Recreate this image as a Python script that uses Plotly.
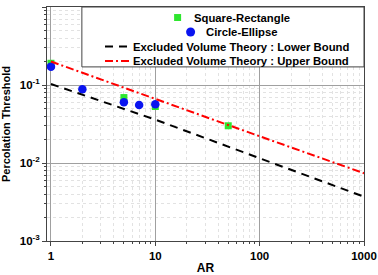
import plotly.graph_objects as go

# Data
sq_ar = [1, 5, 10, 50]
sq_pc = [0.19, 0.069, 0.053, 0.030]

ci_ar = [1, 2, 5, 7, 10]
ci_pc = [0.172, 0.088, 0.060, 0.0555, 0.0565]

lb_ar = [1, 10, 100, 1000]
lb_pc = [0.103, 0.036, 0.0115, 0.0037]

ub_ar = [1, 10, 100, 1000]
ub_pc = [0.20, 0.066, 0.022, 0.0074]

x_tickvals = [1, 10, 100, 1000]
x_ticktext = ["1", "10", "100", "1000"]
y_tickvals = [0.001, 0.01, 0.1, 1]
y_ticktext = ["10<sup>-3</sup>", "10<sup>-2</sup>", "10<sup>-1</sup>", "10<sup>0</sup>"]

series_names = ["Square-Rectangle", "Circle-Ellipse",
                "Excluded Volume Theory : Lower Bound",
                "Excluded Volume Theory : Upper Bound"]

FONT = "Liberation Sans, Arial, sans-serif"
GREEN = "#2ee62e"
BLUE = "#0a14f0"
BLACK_DASH = "8px,6px"
RED_DASH = "8px,3px,2px,3px"

fig = go.Figure()
fig.add_trace(go.Scatter(x=sq_ar, y=sq_pc, mode="markers", name=series_names[0],
                         marker=dict(symbol="square", size=7, color=GREEN)))
fig.add_trace(go.Scatter(x=ci_ar, y=ci_pc, mode="markers", name=series_names[1],
                         marker=dict(symbol="circle", size=8.5, color=BLUE)))
fig.add_trace(go.Scatter(x=lb_ar, y=lb_pc, mode="lines", name=series_names[2],
                         line=dict(color="black", width=2, dash=BLACK_DASH)))
fig.add_trace(go.Scatter(x=ub_ar, y=ub_pc, mode="lines", name=series_names[3],
                         line=dict(color="#ff0000", width=2, dash=RED_DASH)))

axis_common = dict(
    type="log", automargin=False,
    showline=True, linecolor="#444", linewidth=1, mirror=True,
    showgrid=True, gridcolor="#a0a0a0", gridwidth=1,
    ticks="outside", ticklen=4, tickcolor="#444",
    tickfont=dict(family=FONT, size=11.5, color="black", weight="bold"),
    zeroline=False,
    minor=dict(dtick="D1", showgrid=True, gridcolor="#e2e2e2", griddash="dot",
               ticks="outside", ticklen=2, tickcolor="#444"),
)

fig.update_xaxes(**axis_common, range=[-0.038, 3.0], tickmode="array",
                 tickvals=x_tickvals, ticktext=x_ticktext,
                 title=dict(text="AR", font=dict(family=FONT, size=12, color="black", weight="bold"),
                            standoff=2))
fig.update_yaxes(**axis_common, range=[-3, 0], tickmode="array",
                 tickvals=y_tickvals, ticktext=y_ticktext,
                 title=dict(text="Percolation Threshold",
                            font=dict(family=FONT, size=11, color="black", weight="bold"),
                            standoff=8))

# ---- legend box (drawn like the reference's centred legend) ----
legend_font = dict(family=FONT, size=11.3, color="black", weight="bold")
row_y = [0.955, 0.893, 0.831, 0.769]
shapes = [
    dict(type="rect", xref="paper", yref="paper", x0=0.110, x1=1.0, y0=0.744, y1=1.0,
         fillcolor="white", line=dict(color="#444", width=1), layer="above"),
    # square swatch
    dict(type="rect", xref="paper", yref="paper", xsizemode="pixel", ysizemode="pixel",
         xanchor=0.412, yanchor=row_y[0], x0=-3.5, x1=3.5, y0=-3.5, y1=3.5,
         fillcolor=GREEN, line=dict(width=0), layer="above"),
    # circle swatch
    dict(type="circle", xref="paper", yref="paper", xsizemode="pixel", ysizemode="pixel",
         xanchor=0.453, yanchor=row_y[1], x0=-4.5, x1=4.5, y0=-4.5, y1=4.5,
         fillcolor=BLUE, line=dict(width=0), layer="above"),
    # line swatches
    dict(type="line", xref="paper", yref="paper", x0=0.183, x1=0.265, y0=row_y[2], y1=row_y[2],
         line=dict(color="black", width=2, dash=BLACK_DASH), layer="above"),
    dict(type="line", xref="paper", yref="paper", x0=0.183, x1=0.268, y0=row_y[3], y1=row_y[3],
         line=dict(color="#ff0000", width=2, dash=RED_DASH), layer="above"),
]
text_x = [0.456, 0.495, 0.266, 0.266]
annotations = [
    dict(text=n, x=tx, y=ty, xref="paper", yref="paper", xanchor="left", yanchor="middle",
         showarrow=False, font=legend_font)
    for n, tx, ty in zip(series_names, text_x, row_y)
]

fig.update_layout(
    width=378, height=275,
    margin=dict(l=47, r=14, t=7, b=34),
    paper_bgcolor="white", plot_bgcolor="white",
    font=dict(family=FONT, color="black"),
    showlegend=False,
    shapes=shapes,
    annotations=annotations,
)

fig.write_html("out.html",
               config={"displayModeBar": False},
               post_script="document.body.style.margin='0';document.body.style.overflow='hidden';")
